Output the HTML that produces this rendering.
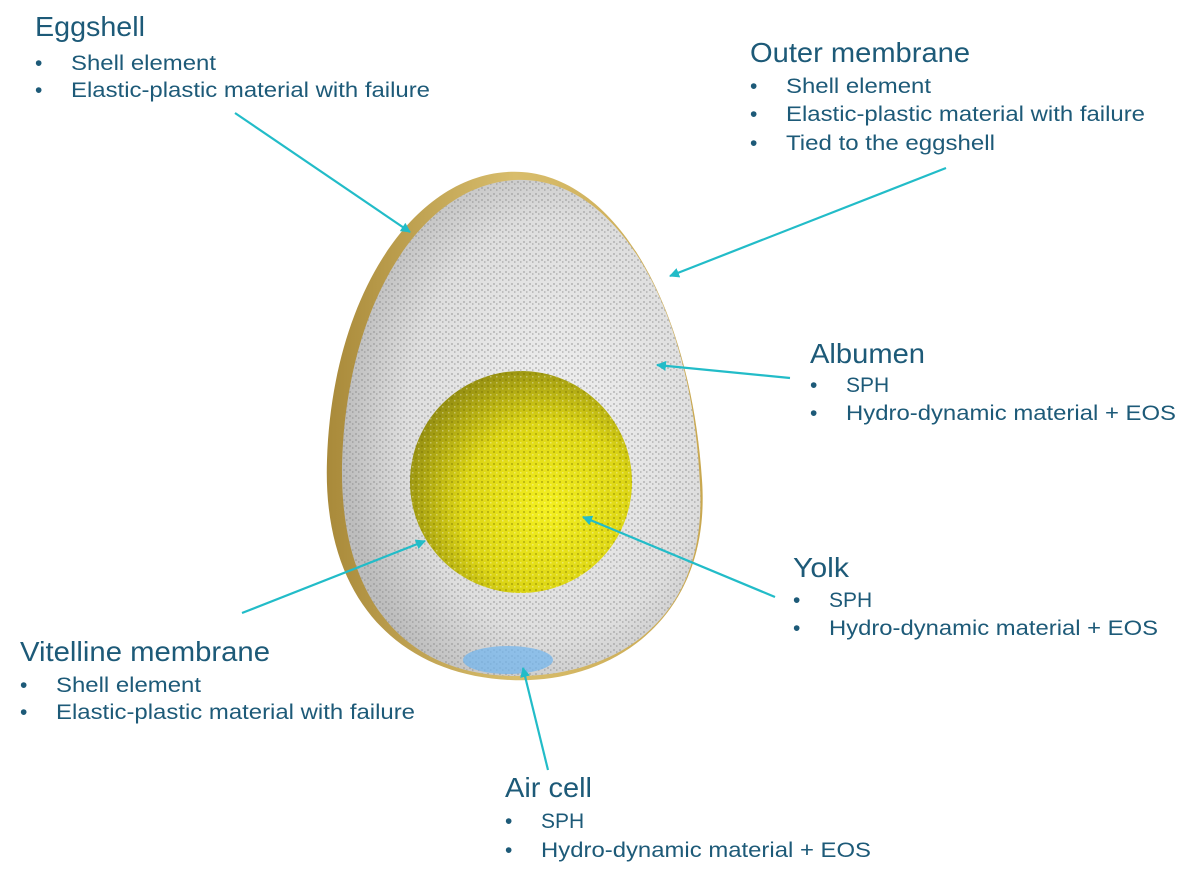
<!DOCTYPE html>
<html><head><meta charset="utf-8"><style>
html,body{margin:0;padding:0;background:#fff;}
svg{display:block}
text{font-family:"Liberation Sans",Arial,sans-serif;fill:#1d5a78}
.t{font-size:28px}
.b{font-size:21px}
</style></head><body>
<svg width="1200" height="878" viewBox="0 0 1200 878" xmlns="http://www.w3.org/2000/svg">
<defs>
<linearGradient id="gold" x1="0" y1="0" x2="1" y2="0">
<stop offset="0" stop-color="#a98a3a"/><stop offset="0.5" stop-color="#d8bd6c"/><stop offset="1" stop-color="#c9a850"/>
</linearGradient>
<radialGradient id="white" cx="0.6" cy="0.5" r="0.6">
<stop offset="0" stop-color="#f0f0f0"/><stop offset="0.7" stop-color="#dedede"/><stop offset="1" stop-color="#bdbdbd"/>
</radialGradient>
<radialGradient id="yolk" cx="0.62" cy="0.62" r="0.7">
<stop offset="0" stop-color="#f4f020"/><stop offset="0.55" stop-color="#dcd515"/><stop offset="1" stop-color="#8d8712"/>
</radialGradient>
<pattern id="noise" width="6" height="6" patternUnits="userSpaceOnUse">
<rect x="1" y="1" width="2" height="2" fill="#888" opacity="0.4"/>
<rect x="4" y="3" width="1.5" height="2" fill="#777" opacity="0.35"/>
</pattern>
<pattern id="ynoise" width="6" height="6" patternUnits="userSpaceOnUse">
<rect x="1" y="1" width="2" height="2" fill="#6e6a00" opacity="0.35"/>
<rect x="4" y="4" width="1.5" height="1.5" fill="#ffffff" opacity="0.35"/>
</pattern>
<marker id="ar" markerWidth="10" markerHeight="10" refX="9" refY="5" orient="auto" markerUnits="userSpaceOnUse">
<path d="M0,0 L10,5 L0,10 Z" fill="#22bcc8"/>
</marker>
</defs>

<path d="M507,172 C610,165 690,300 702,480 C712,620 610,685 510,680 C400,675 322,600 327,460 C332,300 410,178 507,172 Z" fill="url(#gold)"/>
<path d="M515,180 C615,175 692,305 700,485 C708,625 610,678 512,676 C405,674 340,600 342,465 C346,305 420,185 515,180 Z" fill="url(#white)"/>
<path d="M515,180 C615,175 692,305 700,485 C708,625 610,678 512,676 C405,674 340,600 342,465 C346,305 420,185 515,180 Z" fill="url(#noise)"/>
<ellipse cx="508" cy="660" rx="45" ry="14" fill="#6fb5ef" opacity="0.7"/>
<circle cx="521" cy="482" r="111" fill="url(#yolk)"/>
<circle cx="521" cy="482" r="111" fill="url(#ynoise)"/>

<g stroke="#22bcc8" stroke-width="2.2" fill="none">
<line x1="235" y1="113" x2="410" y2="232" marker-end="url(#ar)"/>
<line x1="946" y1="168" x2="670" y2="276" marker-end="url(#ar)"/>
<line x1="790" y1="378" x2="657" y2="365" marker-end="url(#ar)"/>
<line x1="775" y1="597" x2="583" y2="517" marker-end="url(#ar)"/>
<line x1="242" y1="613" x2="425" y2="541" marker-end="url(#ar)"/>
<line x1="548" y1="770" x2="523" y2="668" marker-end="url(#ar)"/>
</g>

<text class="t" x="35" y="36" textLength="110" lengthAdjust="spacingAndGlyphs">Eggshell</text>
<text class="b" x="35" y="70">•</text><text class="b" x="71" y="70" textLength="145" lengthAdjust="spacingAndGlyphs">Shell element</text>
<text class="b" x="35" y="97">•</text><text class="b" x="71" y="97" textLength="359" lengthAdjust="spacingAndGlyphs">Elastic-plastic material with failure</text>

<text class="t" x="750" y="62" textLength="220" lengthAdjust="spacingAndGlyphs">Outer membrane</text>
<text class="b" x="750" y="93">•</text><text class="b" x="786" y="93" textLength="145" lengthAdjust="spacingAndGlyphs">Shell element</text>
<text class="b" x="750" y="121">•</text><text class="b" x="786" y="121" textLength="359" lengthAdjust="spacingAndGlyphs">Elastic-plastic material with failure</text>
<text class="b" x="750" y="150">•</text><text class="b" x="786" y="150" textLength="209" lengthAdjust="spacingAndGlyphs">Tied to the eggshell</text>

<text class="t" x="810" y="363" textLength="115" lengthAdjust="spacingAndGlyphs">Albumen</text>
<text class="b" x="810" y="392">•</text><text class="b" x="846" y="392">SPH</text>
<text class="b" x="810" y="420">•</text><text class="b" x="846" y="420" textLength="330" lengthAdjust="spacingAndGlyphs">Hydro-dynamic material + EOS</text>

<text class="t" x="793" y="577" textLength="56" lengthAdjust="spacingAndGlyphs">Yolk</text>
<text class="b" x="793" y="607">•</text><text class="b" x="829" y="607">SPH</text>
<text class="b" x="793" y="635">•</text><text class="b" x="829" y="635" textLength="329" lengthAdjust="spacingAndGlyphs">Hydro-dynamic material + EOS</text>

<text class="t" x="20" y="661" textLength="250" lengthAdjust="spacingAndGlyphs">Vitelline membrane</text>
<text class="b" x="20" y="692">•</text><text class="b" x="56" y="692" textLength="145" lengthAdjust="spacingAndGlyphs">Shell element</text>
<text class="b" x="20" y="719">•</text><text class="b" x="56" y="719" textLength="359" lengthAdjust="spacingAndGlyphs">Elastic-plastic material with failure</text>

<text class="t" x="505" y="797" textLength="87" lengthAdjust="spacingAndGlyphs">Air cell</text>
<text class="b" x="505" y="828">•</text><text class="b" x="541" y="828">SPH</text>
<text class="b" x="505" y="857">•</text><text class="b" x="541" y="857" textLength="330" lengthAdjust="spacingAndGlyphs">Hydro-dynamic material + EOS</text>
</svg>
</body></html>
